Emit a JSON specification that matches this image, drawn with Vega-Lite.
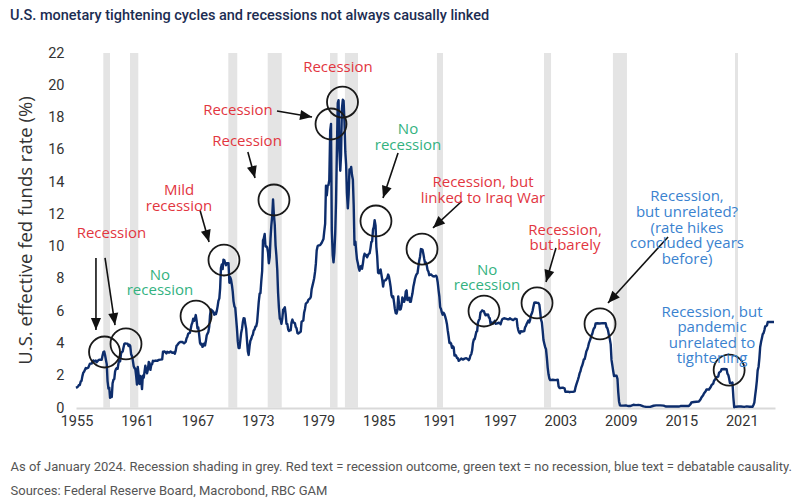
{
  "$schema": "https://vega.github.io/schema/vega-lite/v6.json",
  "width": 699,
  "height": 355,
  "autosize": {"type": "none"},
  "padding": {"left": 76, "top": 53, "right": 25, "bottom": 93},
  "background": "white",
  "config": {"view": {"stroke": null}, "axis": {"labelOverlap": false}},
  "title": {
    "text": "U.S. monetary tightening cycles and recessions not always causally linked",
    "anchor": "start",
    "frame": "group",
    "dx": -66,
    "offset": 11,
    "baseline": "alphabetic",
    "font": "Roboto",
    "fontSize": 14.5,
    "fontWeight": 500,
    "color": "#1c2d52"
  },
  "datasets": {
    "ffr": [
      {"t":1954.95,"r":1.25},{"t":1955.08,"r":1.29},{"t":1955.17,"r":1.35},{"t":1955.25,"r":1.43},{"t":1955.33,"r":1.43},{"t":1955.42,"r":1.64},{"t":1955.50,"r":1.68},{"t":1955.58,"r":1.96},{"t":1955.67,"r":2.18},{"t":1955.75,"r":2.24},{"t":1955.83,"r":2.35},{"t":1955.92,"r":2.48},
      {"t":1956.00,"r":2.45},{"t":1956.17,"r":2.50},{"t":1956.33,"r":2.75},{"t":1956.50,"r":2.75},{"t":1956.67,"r":2.95},{"t":1956.83,"r":2.88},{"t":1956.92,"r":2.94},
      {"t":1957.00,"r":2.84},{"t":1957.17,"r":2.96},{"t":1957.33,"r":3.00},{"t":1957.50,"r":2.99},{"t":1957.58,"r":3.24},{"t":1957.67,"r":3.47},{"t":1957.75,"r":3.50},{"t":1957.83,"r":3.28},{"t":1957.92,"r":2.98},
      {"t":1958.00,"r":2.72},{"t":1958.08,"r":1.67},{"t":1958.17,"r":1.20},{"t":1958.25,"r":1.26},{"t":1958.33,"r":0.63},{"t":1958.42,"r":0.93},{"t":1958.50,"r":0.68},{"t":1958.58,"r":1.53},{"t":1958.67,"r":1.76},{"t":1958.75,"r":1.80},{"t":1958.83,"r":2.27},{"t":1958.92,"r":2.42},
      {"t":1959.00,"r":2.48},{"t":1959.08,"r":2.43},{"t":1959.17,"r":2.80},{"t":1959.25,"r":2.96},{"t":1959.33,"r":2.90},{"t":1959.42,"r":3.39},{"t":1959.50,"r":3.47},{"t":1959.58,"r":3.50},{"t":1959.67,"r":3.76},{"t":1959.75,"r":3.98},{"t":1959.83,"r":4.00},{"t":1959.92,"r":3.99},
      {"t":1960.00,"r":3.99},{"t":1960.08,"r":3.97},{"t":1960.17,"r":3.84},{"t":1960.25,"r":3.92},{"t":1960.33,"r":3.85},{"t":1960.42,"r":3.32},{"t":1960.50,"r":3.23},{"t":1960.58,"r":2.98},{"t":1960.67,"r":2.60},{"t":1960.75,"r":2.47},{"t":1960.83,"r":2.44},{"t":1960.92,"r":1.98},
      {"t":1961.00,"r":1.45},{"t":1961.08,"r":2.54},{"t":1961.17,"r":2.02},{"t":1961.25,"r":1.49},{"t":1961.33,"r":1.98},{"t":1961.42,"r":1.73},{"t":1961.50,"r":1.17},{"t":1961.58,"r":2.00},{"t":1961.67,"r":1.88},{"t":1961.75,"r":2.26},{"t":1961.83,"r":2.62},{"t":1961.92,"r":2.33},
      {"t":1962.00,"r":2.15},{"t":1962.08,"r":2.37},{"t":1962.17,"r":2.85},{"t":1962.25,"r":2.78},{"t":1962.33,"r":2.36},{"t":1962.42,"r":2.68},{"t":1962.50,"r":2.71},{"t":1962.58,"r":2.93},{"t":1962.67,"r":2.90},{"t":1962.83,"r":2.94},{"t":1962.92,"r":2.93},
      {"t":1963.00,"r":2.92},{"t":1963.17,"r":2.98},{"t":1963.33,"r":3.00},{"t":1963.50,"r":3.02},{"t":1963.58,"r":3.49},{"t":1963.75,"r":3.50},{"t":1963.92,"r":3.38},
      {"t":1964.00,"r":3.48},{"t":1964.17,"r":3.43},{"t":1964.33,"r":3.50},{"t":1964.50,"r":3.42},{"t":1964.67,"r":3.45},{"t":1964.75,"r":3.36},{"t":1964.83,"r":3.52},{"t":1964.92,"r":3.85},
      {"t":1965.00,"r":3.90},{"t":1965.17,"r":4.04},{"t":1965.33,"r":4.10},{"t":1965.50,"r":4.09},{"t":1965.67,"r":4.01},{"t":1965.83,"r":4.10},{"t":1965.92,"r":4.32},
      {"t":1966.00,"r":4.42},{"t":1966.08,"r":4.60},{"t":1966.25,"r":4.67},{"t":1966.33,"r":4.90},{"t":1966.42,"r":5.17},{"t":1966.50,"r":5.30},{"t":1966.58,"r":5.53},{"t":1966.67,"r":5.40},{"t":1966.75,"r":5.53},{"t":1966.83,"r":5.76},{"t":1966.92,"r":5.40},
      {"t":1967.00,"r":4.94},{"t":1967.08,"r":5.00},{"t":1967.17,"r":4.53},{"t":1967.25,"r":4.05},{"t":1967.33,"r":3.94},{"t":1967.42,"r":3.98},{"t":1967.50,"r":3.79},{"t":1967.67,"r":3.99},{"t":1967.75,"r":3.88},{"t":1967.83,"r":4.13},{"t":1967.92,"r":4.51},
      {"t":1968.00,"r":4.61},{"t":1968.08,"r":4.71},{"t":1968.17,"r":5.05},{"t":1968.25,"r":5.76},{"t":1968.33,"r":6.11},{"t":1968.50,"r":6.02},{"t":1968.67,"r":5.78},{"t":1968.75,"r":5.91},{"t":1968.83,"r":5.82},{"t":1968.92,"r":6.02},
      {"t":1969.00,"r":6.30},{"t":1969.08,"r":6.64},{"t":1969.17,"r":6.79},{"t":1969.25,"r":7.41},{"t":1969.33,"r":8.67},{"t":1969.42,"r":8.90},{"t":1969.50,"r":8.61},{"t":1969.58,"r":9.19},{"t":1969.67,"r":9.15},{"t":1969.75,"r":9.00},{"t":1969.83,"r":8.85},{"t":1969.92,"r":8.97},
      {"t":1970.00,"r":8.98},{"t":1970.08,"r":8.98},{"t":1970.17,"r":7.76},{"t":1970.25,"r":8.10},{"t":1970.33,"r":7.95},{"t":1970.42,"r":7.61},{"t":1970.50,"r":7.21},{"t":1970.58,"r":6.61},{"t":1970.67,"r":6.29},{"t":1970.75,"r":6.20},{"t":1970.83,"r":5.60},{"t":1970.92,"r":4.90},
      {"t":1971.00,"r":4.14},{"t":1971.08,"r":3.72},{"t":1971.17,"r":3.71},{"t":1971.25,"r":4.16},{"t":1971.33,"r":4.63},{"t":1971.42,"r":4.91},{"t":1971.50,"r":5.31},{"t":1971.58,"r":5.56},{"t":1971.67,"r":5.55},{"t":1971.75,"r":5.20},{"t":1971.83,"r":4.91},{"t":1971.92,"r":4.14},
      {"t":1972.00,"r":3.50},{"t":1972.08,"r":3.29},{"t":1972.17,"r":3.83},{"t":1972.25,"r":4.17},{"t":1972.33,"r":4.27},{"t":1972.42,"r":4.46},{"t":1972.50,"r":4.55},{"t":1972.58,"r":4.80},{"t":1972.67,"r":4.87},{"t":1972.75,"r":5.04},{"t":1972.83,"r":5.06},{"t":1972.92,"r":5.33},
      {"t":1973.00,"r":5.94},{"t":1973.08,"r":6.58},{"t":1973.17,"r":7.09},{"t":1973.25,"r":7.12},{"t":1973.33,"r":7.84},{"t":1973.42,"r":8.49},{"t":1973.50,"r":10.40},{"t":1973.58,"r":10.50},{"t":1973.67,"r":10.78},{"t":1973.75,"r":10.01},{"t":1973.83,"r":10.03},{"t":1973.92,"r":9.95},
      {"t":1974.00,"r":9.65},{"t":1974.08,"r":8.97},{"t":1974.17,"r":9.35},{"t":1974.25,"r":10.51},{"t":1974.33,"r":11.31},{"t":1974.42,"r":11.93},{"t":1974.50,"r":12.92},{"t":1974.58,"r":12.01},{"t":1974.67,"r":11.34},{"t":1974.75,"r":10.06},{"t":1974.83,"r":9.45},{"t":1974.92,"r":8.53},
      {"t":1975.00,"r":7.13},{"t":1975.08,"r":6.24},{"t":1975.17,"r":5.54},{"t":1975.25,"r":5.49},{"t":1975.33,"r":5.22},{"t":1975.42,"r":5.55},{"t":1975.50,"r":6.10},{"t":1975.58,"r":6.14},{"t":1975.67,"r":6.24},{"t":1975.75,"r":5.82},{"t":1975.83,"r":5.22},{"t":1975.92,"r":5.20},
      {"t":1976.00,"r":4.87},{"t":1976.08,"r":4.77},{"t":1976.17,"r":4.84},{"t":1976.25,"r":4.82},{"t":1976.33,"r":5.29},{"t":1976.42,"r":5.48},{"t":1976.50,"r":5.31},{"t":1976.58,"r":5.29},{"t":1976.67,"r":5.25},{"t":1976.75,"r":5.02},{"t":1976.83,"r":4.95},{"t":1976.92,"r":4.65},
      {"t":1977.00,"r":4.61},{"t":1977.17,"r":4.69},{"t":1977.25,"r":4.73},{"t":1977.33,"r":5.35},{"t":1977.50,"r":5.42},{"t":1977.58,"r":5.90},{"t":1977.67,"r":6.14},{"t":1977.75,"r":6.47},{"t":1977.92,"r":6.56},
      {"t":1978.00,"r":6.70},{"t":1978.17,"r":6.79},{"t":1978.25,"r":6.89},{"t":1978.33,"r":7.36},{"t":1978.42,"r":7.60},{"t":1978.50,"r":7.81},{"t":1978.58,"r":8.04},{"t":1978.67,"r":8.45},{"t":1978.75,"r":8.96},{"t":1978.83,"r":9.76},{"t":1978.92,"r":10.03},
      {"t":1979.00,"r":10.07},{"t":1979.17,"r":10.09},{"t":1979.33,"r":10.24},{"t":1979.50,"r":10.47},{"t":1979.58,"r":10.94},{"t":1979.67,"r":11.43},{"t":1979.75,"r":13.77},{"t":1979.83,"r":13.18},{"t":1979.92,"r":13.78},
      {"t":1980.00,"r":13.82},{"t":1980.08,"r":14.13},{"t":1980.17,"r":17.19},{"t":1980.25,"r":17.61},{"t":1980.33,"r":10.98},{"t":1980.42,"r":9.47},{"t":1980.50,"r":9.03},{"t":1980.58,"r":9.61},{"t":1980.67,"r":10.87},{"t":1980.75,"r":12.81},{"t":1980.83,"r":15.85},{"t":1980.92,"r":18.90},
      {"t":1981.00,"r":19.08},{"t":1981.08,"r":15.93},{"t":1981.17,"r":14.70},{"t":1981.25,"r":15.72},{"t":1981.33,"r":18.52},{"t":1981.42,"r":19.10},{"t":1981.50,"r":19.04},{"t":1981.58,"r":17.82},{"t":1981.67,"r":15.87},{"t":1981.75,"r":15.08},{"t":1981.83,"r":13.31},{"t":1981.92,"r":12.37},
      {"t":1982.00,"r":13.22},{"t":1982.08,"r":14.78},{"t":1982.17,"r":14.68},{"t":1982.25,"r":14.94},{"t":1982.33,"r":14.45},{"t":1982.42,"r":14.15},{"t":1982.50,"r":12.59},{"t":1982.58,"r":10.12},{"t":1982.67,"r":10.31},{"t":1982.75,"r":9.71},{"t":1982.83,"r":9.20},{"t":1982.92,"r":8.95},
      {"t":1983.00,"r":8.68},{"t":1983.08,"r":8.51},{"t":1983.17,"r":8.77},{"t":1983.25,"r":8.80},{"t":1983.33,"r":8.63},{"t":1983.42,"r":8.98},{"t":1983.50,"r":9.37},{"t":1983.58,"r":9.56},{"t":1983.67,"r":9.45},{"t":1983.75,"r":9.48},{"t":1983.83,"r":9.34},{"t":1983.92,"r":9.47},
      {"t":1984.00,"r":9.56},{"t":1984.08,"r":9.59},{"t":1984.17,"r":9.91},{"t":1984.25,"r":10.29},{"t":1984.33,"r":10.32},{"t":1984.42,"r":11.06},{"t":1984.50,"r":11.23},{"t":1984.58,"r":11.64},{"t":1984.67,"r":11.30},{"t":1984.75,"r":9.99},{"t":1984.83,"r":9.43},{"t":1984.92,"r":8.38},
      {"t":1985.00,"r":8.35},{"t":1985.08,"r":8.50},{"t":1985.17,"r":8.58},{"t":1985.25,"r":8.27},{"t":1985.33,"r":7.97},{"t":1985.42,"r":7.53},{"t":1985.50,"r":7.88},{"t":1985.58,"r":7.90},{"t":1985.67,"r":7.92},{"t":1985.75,"r":7.99},{"t":1985.83,"r":8.05},{"t":1985.92,"r":8.27},
      {"t":1986.00,"r":8.14},{"t":1986.08,"r":7.86},{"t":1986.17,"r":7.48},{"t":1986.25,"r":6.99},{"t":1986.33,"r":6.85},{"t":1986.42,"r":6.92},{"t":1986.50,"r":6.56},{"t":1986.58,"r":6.17},{"t":1986.67,"r":5.89},{"t":1986.75,"r":5.85},{"t":1986.83,"r":6.04},{"t":1986.92,"r":6.91},
      {"t":1987.00,"r":6.43},{"t":1987.08,"r":6.10},{"t":1987.17,"r":6.13},{"t":1987.25,"r":6.37},{"t":1987.33,"r":6.85},{"t":1987.42,"r":6.73},{"t":1987.50,"r":6.58},{"t":1987.58,"r":6.73},{"t":1987.67,"r":7.22},{"t":1987.75,"r":7.29},{"t":1987.83,"r":6.69},{"t":1987.92,"r":6.77},
      {"t":1988.00,"r":6.83},{"t":1988.08,"r":6.58},{"t":1988.17,"r":6.58},{"t":1988.25,"r":6.87},{"t":1988.33,"r":7.09},{"t":1988.42,"r":7.51},{"t":1988.50,"r":7.75},{"t":1988.58,"r":8.01},{"t":1988.67,"r":8.19},{"t":1988.75,"r":8.30},{"t":1988.83,"r":8.35},{"t":1988.92,"r":8.76},
      {"t":1989.00,"r":9.12},{"t":1989.08,"r":9.36},{"t":1989.17,"r":9.85},{"t":1989.25,"r":9.84},{"t":1989.33,"r":9.81},{"t":1989.42,"r":9.53},{"t":1989.50,"r":9.24},{"t":1989.58,"r":8.99},{"t":1989.67,"r":9.02},{"t":1989.75,"r":8.84},{"t":1989.83,"r":8.55},{"t":1989.92,"r":8.45},
      {"t":1990.00,"r":8.23},{"t":1990.17,"r":8.28},{"t":1990.33,"r":8.18},{"t":1990.50,"r":8.15},{"t":1990.67,"r":8.20},{"t":1990.75,"r":8.11},{"t":1990.83,"r":7.81},{"t":1990.92,"r":7.31},
      {"t":1991.00,"r":6.91},{"t":1991.08,"r":6.25},{"t":1991.17,"r":6.12},{"t":1991.25,"r":5.91},{"t":1991.33,"r":5.78},{"t":1991.42,"r":5.90},{"t":1991.50,"r":5.82},{"t":1991.58,"r":5.66},{"t":1991.67,"r":5.45},{"t":1991.75,"r":5.21},{"t":1991.83,"r":4.81},{"t":1991.92,"r":4.43},
      {"t":1992.00,"r":4.03},{"t":1992.08,"r":4.06},{"t":1992.17,"r":3.98},{"t":1992.25,"r":3.73},{"t":1992.33,"r":3.82},{"t":1992.42,"r":3.76},{"t":1992.50,"r":3.25},{"t":1992.58,"r":3.30},{"t":1992.67,"r":3.22},{"t":1992.75,"r":3.10},{"t":1992.83,"r":3.09},{"t":1992.92,"r":2.92},
      {"t":1993.00,"r":2.96},{"t":1993.17,"r":3.07},{"t":1993.33,"r":3.00},{"t":1993.50,"r":3.06},{"t":1993.67,"r":3.09},{"t":1993.83,"r":3.02},{"t":1993.92,"r":2.96},
      {"t":1994.00,"r":3.05},{"t":1994.08,"r":3.25},{"t":1994.17,"r":3.34},{"t":1994.25,"r":3.56},{"t":1994.33,"r":4.01},{"t":1994.42,"r":4.25},{"t":1994.50,"r":4.26},{"t":1994.58,"r":4.47},{"t":1994.67,"r":4.73},{"t":1994.75,"r":4.76},{"t":1994.83,"r":5.29},{"t":1994.92,"r":5.45},
      {"t":1995.00,"r":5.53},{"t":1995.08,"r":5.92},{"t":1995.17,"r":5.98},{"t":1995.25,"r":6.05},{"t":1995.33,"r":6.01},{"t":1995.42,"r":6.00},{"t":1995.50,"r":5.85},{"t":1995.58,"r":5.74},{"t":1995.67,"r":5.80},{"t":1995.75,"r":5.76},{"t":1995.83,"r":5.80},{"t":1995.92,"r":5.60},
      {"t":1996.00,"r":5.56},{"t":1996.08,"r":5.22},{"t":1996.17,"r":5.31},{"t":1996.33,"r":5.24},{"t":1996.50,"r":5.40},{"t":1996.58,"r":5.22},{"t":1996.75,"r":5.24},{"t":1996.92,"r":5.29},
      {"t":1997.00,"r":5.25},{"t":1997.08,"r":5.19},{"t":1997.17,"r":5.39},{"t":1997.25,"r":5.51},{"t":1997.42,"r":5.56},{"t":1997.58,"r":5.54},{"t":1997.75,"r":5.50},{"t":1997.92,"r":5.50},
      {"t":1998.00,"r":5.56},{"t":1998.17,"r":5.49},{"t":1998.33,"r":5.45},{"t":1998.50,"r":5.54},{"t":1998.67,"r":5.51},{"t":1998.75,"r":5.07},{"t":1998.83,"r":4.83},{"t":1998.92,"r":4.68},
      {"t":1999.00,"r":4.63},{"t":1999.08,"r":4.76},{"t":1999.25,"r":4.74},{"t":1999.42,"r":4.76},{"t":1999.50,"r":4.99},{"t":1999.58,"r":5.07},{"t":1999.67,"r":5.22},{"t":1999.83,"r":5.42},{"t":1999.92,"r":5.30},
      {"t":2000.00,"r":5.45},{"t":2000.08,"r":5.73},{"t":2000.17,"r":5.85},{"t":2000.25,"r":6.02},{"t":2000.33,"r":6.27},{"t":2000.42,"r":6.53},{"t":2000.50,"r":6.54},{"t":2000.67,"r":6.52},{"t":2000.83,"r":6.51},{"t":2000.92,"r":6.40},
      {"t":2001.00,"r":5.98},{"t":2001.08,"r":5.49},{"t":2001.17,"r":5.31},{"t":2001.25,"r":4.80},{"t":2001.33,"r":4.21},{"t":2001.42,"r":3.97},{"t":2001.50,"r":3.77},{"t":2001.58,"r":3.65},{"t":2001.67,"r":3.07},{"t":2001.75,"r":2.49},{"t":2001.83,"r":2.09},{"t":2001.92,"r":1.82},
      {"t":2002.00,"r":1.73},{"t":2002.25,"r":1.75},{"t":2002.50,"r":1.73},{"t":2002.75,"r":1.75},{"t":2002.83,"r":1.34},{"t":2002.92,"r":1.24},
      {"t":2003.00,"r":1.24},{"t":2003.25,"r":1.26},{"t":2003.42,"r":1.22},{"t":2003.50,"r":1.01},{"t":2003.75,"r":1.01},{"t":2003.92,"r":0.98},
      {"t":2004.00,"r":1.00},{"t":2004.25,"r":1.00},{"t":2004.42,"r":1.03},{"t":2004.50,"r":1.26},{"t":2004.58,"r":1.43},{"t":2004.67,"r":1.61},{"t":2004.75,"r":1.76},{"t":2004.83,"r":1.93},{"t":2004.92,"r":2.16},
      {"t":2005.00,"r":2.28},{"t":2005.08,"r":2.50},{"t":2005.17,"r":2.63},{"t":2005.25,"r":2.79},{"t":2005.33,"r":3.00},{"t":2005.42,"r":3.04},{"t":2005.50,"r":3.26},{"t":2005.58,"r":3.50},{"t":2005.67,"r":3.62},{"t":2005.75,"r":3.78},{"t":2005.83,"r":4.00},{"t":2005.92,"r":4.16},
      {"t":2006.00,"r":4.29},{"t":2006.08,"r":4.49},{"t":2006.17,"r":4.59},{"t":2006.25,"r":4.79},{"t":2006.33,"r":4.94},{"t":2006.42,"r":4.99},{"t":2006.50,"r":5.24},{"t":2006.67,"r":5.25},{"t":2006.92,"r":5.24},
      {"t":2007.17,"r":5.26},{"t":2007.42,"r":5.25},{"t":2007.50,"r":5.26},{"t":2007.58,"r":5.02},{"t":2007.67,"r":4.94},{"t":2007.75,"r":4.76},{"t":2007.83,"r":4.49},{"t":2007.92,"r":4.24},
      {"t":2008.00,"r":3.94},{"t":2008.08,"r":2.98},{"t":2008.17,"r":2.61},{"t":2008.25,"r":2.28},{"t":2008.33,"r":1.98},{"t":2008.42,"r":2.00},{"t":2008.50,"r":2.01},{"t":2008.58,"r":2.00},{"t":2008.67,"r":1.81},{"t":2008.75,"r":0.97},{"t":2008.83,"r":0.39},{"t":2008.92,"r":0.16},
      {"t":2009.00,"r":0.15},{"t":2009.25,"r":0.15},{"t":2009.50,"r":0.16},{"t":2009.75,"r":0.12},{"t":2009.92,"r":0.12},
      {"t":2010.25,"r":0.20},{"t":2010.50,"r":0.18},{"t":2010.75,"r":0.19},{"t":2010.92,"r":0.18},
      {"t":2011.25,"r":0.10},{"t":2011.50,"r":0.07},{"t":2011.75,"r":0.07},{"t":2011.92,"r":0.07},
      {"t":2012.25,"r":0.14},{"t":2012.50,"r":0.16},{"t":2012.75,"r":0.16},{"t":2012.92,"r":0.16},
      {"t":2013.25,"r":0.15},{"t":2013.50,"r":0.09},{"t":2013.75,"r":0.09},{"t":2013.92,"r":0.09},
      {"t":2014.25,"r":0.09},{"t":2014.50,"r":0.09},{"t":2014.75,"r":0.09},{"t":2014.92,"r":0.12},
      {"t":2015.25,"r":0.12},{"t":2015.50,"r":0.13},{"t":2015.75,"r":0.12},{"t":2015.92,"r":0.24},
      {"t":2016.00,"r":0.34},{"t":2016.25,"r":0.37},{"t":2016.50,"r":0.39},{"t":2016.75,"r":0.40},{"t":2016.92,"r":0.54},
      {"t":2017.00,"r":0.65},{"t":2017.17,"r":0.79},{"t":2017.25,"r":0.90},{"t":2017.42,"r":1.04},{"t":2017.50,"r":1.15},{"t":2017.75,"r":1.15},{"t":2017.92,"r":1.30},
      {"t":2018.00,"r":1.41},{"t":2018.17,"r":1.51},{"t":2018.25,"r":1.69},{"t":2018.42,"r":1.82},{"t":2018.50,"r":1.91},{"t":2018.67,"r":1.95},{"t":2018.75,"r":2.19},{"t":2018.92,"r":2.27},
      {"t":2019.00,"r":2.40},{"t":2019.25,"r":2.42},{"t":2019.50,"r":2.40},{"t":2019.58,"r":2.13},{"t":2019.67,"r":2.04},{"t":2019.75,"r":1.83},{"t":2019.83,"r":1.55},{"t":2019.92,"r":1.55},
      {"t":2020.00,"r":1.55},{"t":2020.08,"r":1.58},{"t":2020.17,"r":0.65},{"t":2020.25,"r":0.05},{"t":2020.42,"r":0.08},{"t":2020.67,"r":0.09},{"t":2020.92,"r":0.09},
      {"t":2021.25,"r":0.07},{"t":2021.50,"r":0.10},{"t":2021.75,"r":0.08},{"t":2021.92,"r":0.08},
      {"t":2022.00,"r":0.08},{"t":2022.08,"r":0.08},{"t":2022.17,"r":0.20},{"t":2022.25,"r":0.33},{"t":2022.33,"r":0.77},{"t":2022.42,"r":1.21},{"t":2022.50,"r":1.68},{"t":2022.58,"r":2.33},{"t":2022.67,"r":2.56},{"t":2022.75,"r":3.08},{"t":2022.83,"r":3.78},{"t":2022.92,"r":4.10},
      {"t":2023.00,"r":4.33},{"t":2023.08,"r":4.57},{"t":2023.17,"r":4.65},{"t":2023.25,"r":4.83},{"t":2023.33,"r":5.06},{"t":2023.42,"r":5.08},{"t":2023.50,"r":5.12},{"t":2023.58,"r":5.33},{"t":2023.75,"r":5.33},{"t":2023.92,"r":5.33},{"t":2024.20,"r":5.33}
    ],
    "rec": [
      {"s":1957.66,"e":1958.32},{"s":1960.31,"e":1961.13},{"s":1970.06,"e":1970.95},{"s":1973.97,"e":1975.36},{"s":1980.15,"e":1980.9},{"s":1981.63,"e":1982.93},{"s":1990.76,"e":1991.36},{"s":2001.38,"e":2002.08},{"s":2008.22,"e":2009.61},{"s":2020.33,"e":2020.63}
    ],
    "circ": [
      {"t":1957.78,"r":3.47},{"t":1959.91,"r":3.97},{"t":1966.86,"r":5.70},{"t":1969.63,"r":9.17},{"t":1974.59,"r":12.89},{"t":1980.25,"r":17.60},{"t":1981.39,"r":18.96},{"t":1984.71,"r":11.59},{"t":1989.28,"r":9.85},{"t":1995.43,"r":6.01},{"t":2000.69,"r":6.51},{"t":2006.94,"r":5.21},{"t":2019.75,"r":2.35}
    ],
    "arr": [
      {"t1":1956.93,"r1":9.30,"t2":1956.93,"r2":4.83},
      {"t1":1957.83,"r1":9.30,"t2":1958.82,"r2":5.14},
      {"t1":1967.25,"r1":12.27,"t2":1968.15,"r2":10.29},
      {"t1":1972.0,"r1":15.87,"t2":1972.71,"r2":14.25},
      {"t1":1974.89,"r1":18.41,"t2":1978.37,"r2":18.03},
      {"t1":1986.90,"r1":15.80,"t2":1985.41,"r2":13.01},
      {"t1":1993.25,"r1":12.83,"t2":1990.37,"r2":11.16},
      {"t1":2002.57,"r1":9.92,"t2":2001.58,"r2":7.81},
      {"t1":2013.69,"r1":10.60,"t2":2007.73,"r2":6.51}
    ],
    "ann": [
      {"t":1958.47,"r":10.85,"label":"Recession","kind":"recession"},
      {"t":1965.17,"r":13.51,"label":"Mild\nrecession","kind":"recession"},
      {"t":1963.28,"r":8.27,"label":"No\nrecession","kind":"no recession"},
      {"t":1971.92,"r":16.55,"label":"Recession","kind":"recession"},
      {"t":1971.02,"r":18.47,"label":"Recession","kind":"recession"},
      {"t":1980.94,"r":21.13,"label":"Recession","kind":"recession"},
      {"t":1987.89,"r":17.29,"label":"No\nrecession","kind":"no recession"},
      {"t":1995.33,"r":13.98,"label":"Recession, but\nlinked to Iraq War","kind":"recession"},
      {"t":2003.47,"r":11.06,"label":"Recession,\nbut barely","kind":"recession"},
      {"t":2015.57,"r":13.11,"label":"Recession,\nbut unrelated?\n(rate hikes\nconcluded years\nbefore)","kind":"debatable"},
      {"t":2018.05,"r":5.98,"label":"Recession, but\npandemic\nunrelated to\ntightening","kind":"debatable"},
      {"t":1995.73,"r":8.58,"label":"No\nrecession","kind":"no recession"}
    ]
  },
  "layer": [
    {
      "data": {"name": "rec"},
      "mark": {"type": "rect", "color": "#e4e4e4"},
      "encoding": {
        "x": {"field": "s", "type": "quantitative",
          "scale": {"domain": [1954.95, 2024.3], "nice": false, "zero": false},
          "axis": {
            "values": [1955,1961,1967,1973,1979,1985,1991,1997,2003,2009,2015,2021],
            "format": "d",
            "grid": false, "ticks": false,
            "domainColor": "#d9d9d9", "domainWidth": 2,
            "labelFont": "Roboto",
            "labelFontSize": 14.5, "labelColor": "#333333", "labelPadding": 6,
            "labelFlush": false, "labelOverlap": false,
            "title": ["As of January 2024. Recession shading in grey. Red text = recession outcome, green text = no recession, blue text = debatable causality.", "Sources: Federal Reserve Board, Macrobond, RBC GAM"],
            "titleFont": "Roboto",
            "titleFontSize": 13, "titleFontWeight": "normal", "titleColor": "#555555",
            "titleAnchor": "start", "titleAlign": "left", "titleBaseline": "alphabetic",
            "titleX": -66, "titleY": 62, "titleLineHeight": 24
          }
        },
        "x2": {"field": "e"},
        "y": {"datum": 0, "type": "quantitative",
          "scale": {"domain": [0, 22], "nice": false},
          "axis": {
            "values": [0,2,4,6,8,10,12,14,16,18,20,22],
            "tickCount": 12,
            "grid": false, "ticks": false, "domain": false,
            "labelFont": "Roboto", "labelOverlap": false,
            "labelFontSize": 14.5, "labelColor": "#333333", "labelPadding": 12,
            "title": "U.S. effective fed funds rate (%)",
            "titleFont": "Open Sans", "titleFontSize": 18.5, "titleFontWeight": "normal", "titleColor": "#333333",
            "titleX": -51, "titleY": 177, "titleAngle": -90, "titleAlign": "center", "titleBaseline": "middle"
          }
        },
        "y2": {"datum": 22}
      }
    },
    {
      "data": {"name": "ffr"},
      "mark": {"type": "line", "color": "#0d2d6c", "strokeWidth": 2.4, "strokeJoin": "round"},
      "encoding": {
        "x": {"field": "t", "type": "quantitative"},
        "y": {"field": "r", "type": "quantitative"}
      }
    },
    {
      "data": {"name": "circ"},
      "mark": {"type": "point", "shape": "circle", "filled": false, "size": 960, "stroke": "#1a1a1a", "strokeWidth": 1.8, "opacity": 1},
      "encoding": {
        "x": {"field": "t", "type": "quantitative"},
        "y": {"field": "r", "type": "quantitative"}
      }
    },
    {
      "data": {"name": "arr"},
      "mark": {"type": "rule", "color": "#111111", "strokeWidth": 1.6},
      "encoding": {
        "x": {"field": "t1", "type": "quantitative"},
        "y": {"field": "r1", "type": "quantitative"},
        "x2": {"field": "t2"},
        "y2": {"field": "r2"}
      }
    },
    {
      "data": {"name": "arr"},
      "transform": [
        {"calculate": "atan2((datum.t2 - datum.t1) * 10.08, (datum.r2 - datum.r1) * 16.136) * 180 / PI", "as": "ang"}
      ],
      "mark": {"type": "point", "shape": "M0,0L-0.42,1L0.42,1Z", "filled": true, "size": 576, "color": "#111111", "opacity": 1},
      "encoding": {
        "x": {"field": "t2", "type": "quantitative"},
        "y": {"field": "r2", "type": "quantitative"},
        "angle": {"field": "ang", "type": "quantitative", "scale": null}
      }
    },
    {
      "data": {"name": "ann"},
      "mark": {"type": "text", "font": "Open Sans", "fontSize": 15, "lineBreak": "\n", "lineHeight": 15.6, "align": "center", "baseline": "middle"},
      "encoding": {
        "x": {"field": "t", "type": "quantitative"},
        "y": {"field": "r", "type": "quantitative"},
        "text": {"field": "label"},
        "color": {"field": "kind", "type": "nominal",
          "scale": {"domain": ["recession", "no recession", "debatable"], "range": ["#e2363f", "#33b27f", "#3a82cf"]},
          "legend": null}
      }
    }
  ]
}
